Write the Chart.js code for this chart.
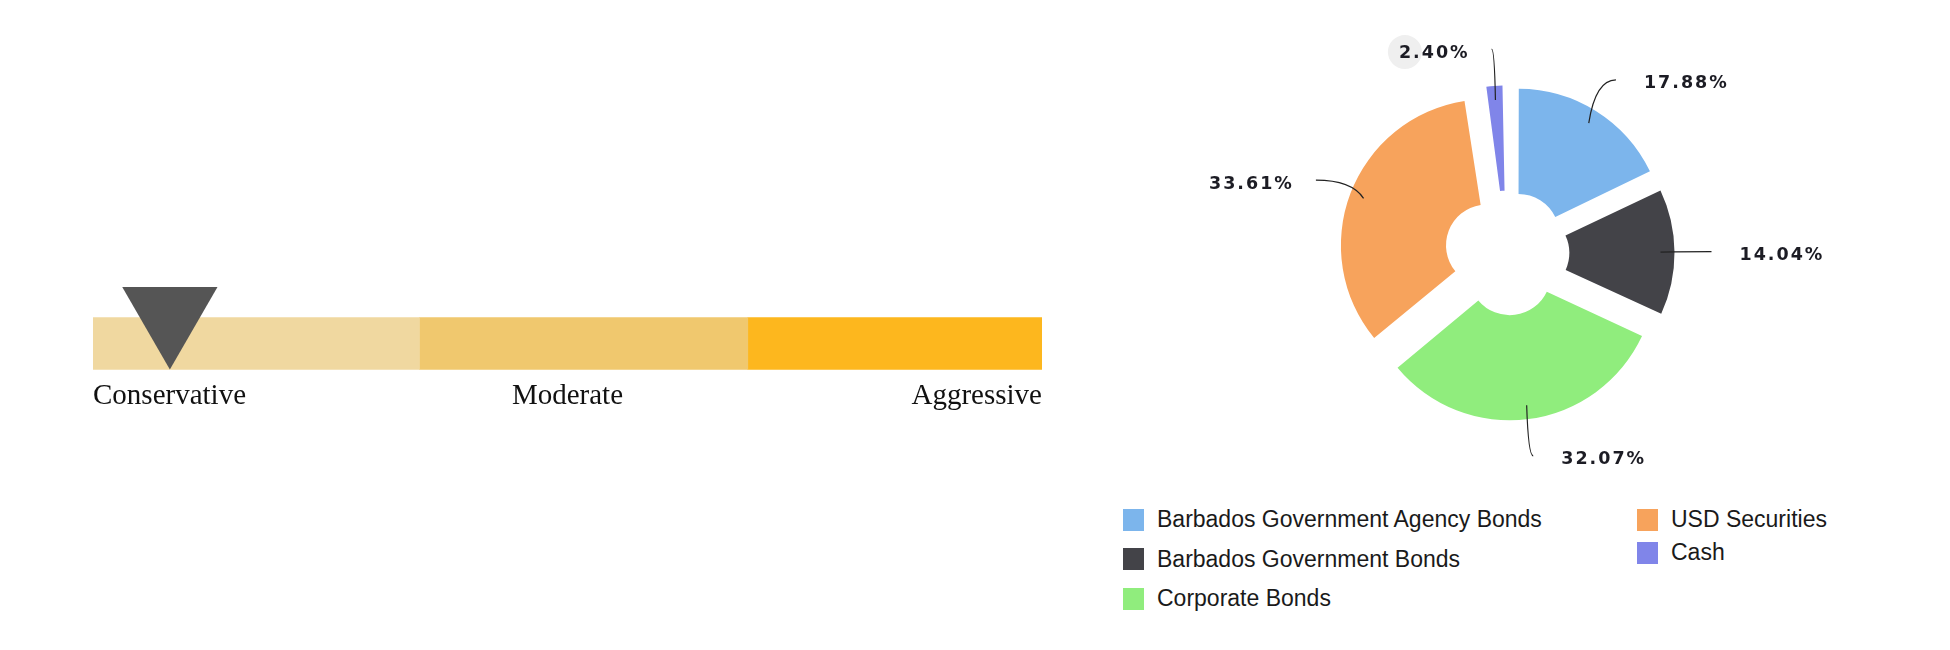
<!DOCTYPE html>
<html>
<head>
<meta charset="utf-8">
<script src="https://cdn.jsdelivr.net/npm/chart.js@4.4.1/dist/chart.umd.min.js"></script>
<style>
  body { margin: 0; width: 1950px; height: 650px; background: #fff; position: relative; overflow: hidden; }
  #riskWrap { position: absolute; left: 93px; top: 280px; width: 949px; height: 100px; }
  .riskLabel { position: absolute; top: 380px; font: 29px "Liberation Serif", "DejaVu Serif", serif; line-height: 28px; color: #111; white-space: nowrap; }
  #pieWrap { position: absolute; left: 1150px; top: 13px; width: 714px; height: 480px; }
  .legendCol { position: absolute; top: 508px; font: 23px "Liberation Sans", Arial, sans-serif; color: #1a1a1a; }
  .legendItem { display: flex; align-items: center; height: 23px; white-space: nowrap; }
  .legendBox { width: 21px; height: 22px; margin-right: 13px; flex: none; }
</style>
</head>
<body>
<div id="riskWrap"><canvas id="riskChart"></canvas></div>
<div id="riskLabels"></div>
<div id="pieWrap"><canvas id="assetChart"></canvas></div>
<div id="legendLeft" class="legendCol" style="left:1123px"></div>
<div id="legendRight" class="legendCol" style="left:1637px"></div>
<script>
// risk profile slider
const riskLevels = ['Conservative', 'Moderate', 'Aggressive'];
const riskBands = [34.4, 34.6, 31.0];
const riskColors = ['#F0D8A0', '#F0C86E', '#FDB71E'];
const riskMarker = 8.1;

// asset allocation
const assetLabels = ['Barbados Government Agency Bonds', 'Barbados Government Bonds', 'Corporate Bonds', 'USD Securities', 'Cash'];
const assetValues = [17.88, 14.04, 32.07, 33.61, 2.40];
const assetColors = ['#7CB5EC', '#434348', '#90ED7D', '#F7A35C', '#8085E9'];
const highlightIndex = 4;

new Chart(document.getElementById('riskChart'), {
  type: 'bar',
  data: {
    labels: ['marker', 'band'],
    datasets: [
      ...riskBands.map((v, i) => ({
        label: riskLevels[i],
        data: [null, v],
        backgroundColor: riskColors[i],
        borderWidth: 0,
        barThickness: 52,
        stack: 'bands',
        clip: false
      })),
      {
        type: 'line',
        label: 'Profile',
        indexAxis: 'y',
        order: -1,
        data: [riskMarker, null],
        showLine: false,
        pointStyle: 'triangle',
        rotation: 180,
        pointRadius: 55,
        pointBackgroundColor: '#555555',
        pointBorderWidth: 0,
        stack: 'marker',
        clip: false
      }
    ]
  },
  options: {
    indexAxis: 'y',
    responsive: true,
    maintainAspectRatio: false,
    animation: false,
    events: [],
    layout: { autoPadding: false, padding: { top: 20, bottom: 22, left: 0, right: 0 } },
    plugins: { legend: { display: false }, tooltip: { enabled: false } },
    scales: {
      x: { stacked: true, min: 0, max: 100, display: false },
      y: { stacked: true, display: false }
    }
  }
});

// labels under the slider
const riskLabelBox = document.getElementById('riskLabels');
riskLevels.forEach((name, i) => {
  const d = document.createElement('div');
  d.className = 'riskLabel';
  d.textContent = name;
  if (i === 0) d.style.left = '93px';
  else if (i === 1) { d.style.left = '567.5px'; d.style.transform = 'translateX(-50%)'; }
  else d.style.right = '908px';
  riskLabelBox.appendChild(d);
});

// chart.js grows small exploded slices, pull them back to the common radius
const explodeFix = {
  id: 'explodeFix',
  afterDatasetsUpdate(chart) {
    const shift = chart.data.datasets[0].offset / 4;
    chart.getDatasetMeta(0).data.forEach(arc => {
      const fix = 1 - Math.sin(Math.min(Math.PI, arc.circumference));
      arc.outerRadius -= shift * fix;
      arc.innerRadius -= shift * fix;
    });
  }
};

const sliceLabels = {
  id: 'sliceLabels',
  afterDatasetsDraw(chart) {
    const ctx = chart.ctx;
    const meta = chart.getDatasetMeta(0);
    const shift = chart.data.datasets[0].offset / 4;
    const R = meta.controller.outerRadius;
    ctx.save();
    ctx.font = 'bold 17.5px "DejaVu Sans", Verdana, sans-serif';
    ctx.letterSpacing = '2px';
    ctx.textBaseline = 'middle';
    meta.data.forEach((arc, i) => {
      const mid = (arc.startAngle + arc.endAngle) / 2;
      const dx = Math.cos(mid), dy = Math.sin(mid);
      const cx = arc.x + dx * shift, cy = arc.y + dy * shift;
      const sx = cx + dx * (R - 14), sy = cy + dy * (R - 14);
      const ex = cx + dx * (R + 37), ey = cy + dy * (R + 37);
      const right = dx > 0;
      const text = assetValues[i].toFixed(2) + '%';
      const tx = right ? ex + 28 : ex - 22;
      const ty = ey + 4;
      const w = ctx.measureText(text).width;
      const left = right ? tx : tx - w;

      if (i === highlightIndex) {
        ctx.fillStyle = '#efefef';
        ctx.beginPath();
        ctx.arc(left + 6, ty - 1, 17, 0, Math.PI * 2);
        ctx.fill();
      }

      ctx.strokeStyle = '#222';
      ctx.lineWidth = 1.2;
      ctx.beginPath();
      ctx.moveTo(sx, sy);
      ctx.quadraticCurveTo(sx + (ex - sx) * 0.25, ey, ex, ey);
      ctx.stroke();

      ctx.fillStyle = '#1c1c24';
      ctx.textAlign = 'left';
      ctx.fillText(text, left, ty);
    });
    ctx.restore();
  }
};

new Chart(document.getElementById('assetChart'), {
  type: 'doughnut',
  data: {
    labels: assetLabels,
    datasets: [{
      data: assetValues,
      backgroundColor: assetColors,
      borderWidth: 0,
      offset: 86,
      hoverOffset: 0
    }]
  },
  options: {
    responsive: true,
    maintainAspectRatio: false,
    animation: false,
    events: [],
    radius: 146,
    cutout: '28%',
    plugins: { legend: { display: false }, tooltip: { enabled: false } }
  },
  plugins: [explodeFix, sliceLabels]
});

// legend in two columns
const legendCols = [
  { el: document.getElementById('legendLeft'), from: 0, to: 3, gap: 16.5 },
  { el: document.getElementById('legendRight'), from: 3, to: 5, gap: 10 }
];
legendCols.forEach(col => {
  for (let i = col.from; i < col.to; i++) {
    const item = document.createElement('div');
    item.className = 'legendItem';
    if (i > col.from) item.style.marginTop = col.gap + 'px';
    const box = document.createElement('span');
    box.className = 'legendBox';
    box.style.background = assetColors[i];
    const txt = document.createElement('span');
    txt.textContent = assetLabels[i];
    item.appendChild(box);
    item.appendChild(txt);
    col.el.appendChild(item);
  }
});
</script>
</body>
</html>
